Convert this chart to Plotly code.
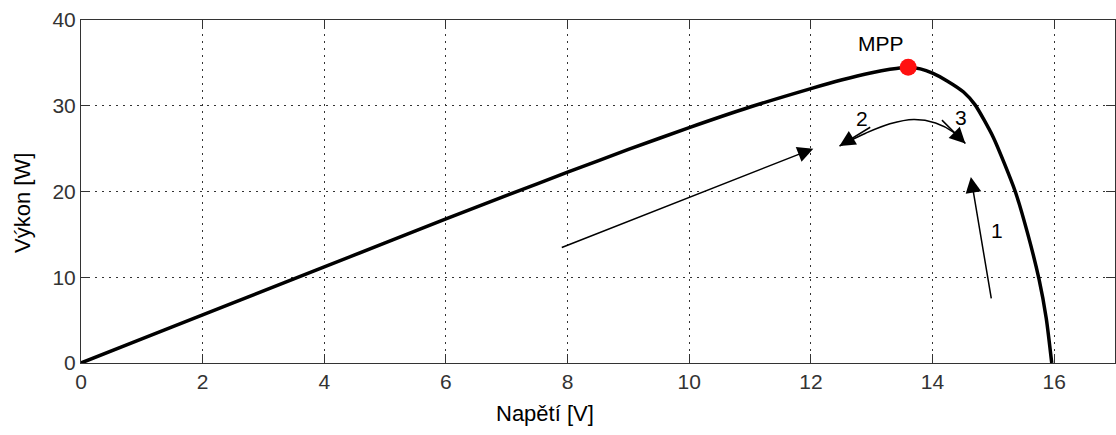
import plotly.graph_objects as go

# P-V curve of the PV panel
voltage = [0, 1, 2, 3, 4, 5, 6, 7, 8, 9, 10, 11, 12, 12.5, 13, 13.3, 13.6,
           13.8, 14.0, 14.24, 14.51, 14.70, 15.0, 15.36, 15.56, 15.75, 15.87, 15.96]
power = [0, 2.8, 5.6, 8.4, 11.2, 14.0, 16.8, 19.55, 22.25, 24.9, 27.45, 29.85, 32.0,
         33.0, 33.85, 34.25, 34.5, 34.3, 33.8, 32.9, 31.6, 30.1, 26.3, 20.0, 15.2,
         9.8, 5.2, 0]

mpp_v = [13.6]
mpp_p = [34.5]

# curved arc between arrow 2 and arrow 3
arc_v = [12.47, 12.9, 13.3, 13.69, 14.05, 14.35, 14.54]
arc_p = [25.3, 26.8, 27.9, 28.4, 28.0, 26.9, 25.6]

# straight arrows: (tail_v, tail_p, head_v, head_p)
arrows = [
    (7.88, 13.4, 12.04, 25.0),
    (14.97, 7.35, 14.63, 21.7),
    (14.13, 28.5, 14.54, 25.6),
    (13.0, 27.6, 12.47, 25.3),
]
labels = [("1", 15.06, 15.5), ("2", 12.84, 28.5), ("3", 14.46, 28.65), ("MPP", 13.16, 37.3)]

x_ticks = [0, 2, 4, 6, 8, 10, 12, 14, 16]
y_ticks = [0, 10, 20, 30, 40]

FONT = "Arial, Liberation Sans, sans-serif"

fig = go.Figure()
fig.add_trace(go.Scatter(x=voltage, y=power, mode="lines",
                         line=dict(color="black", width=3.5, shape="spline", smoothing=0.6),
                         hoverinfo="skip", showlegend=False))
fig.add_trace(go.Scatter(x=arc_v, y=arc_p, mode="lines",
                         line=dict(color="black", width=1.6, shape="spline"),
                         hoverinfo="skip", showlegend=False))
fig.add_trace(go.Scatter(x=mpp_v, y=mpp_p, mode="markers",
                         marker=dict(color="#ff1010", size=17, line=dict(width=0)),
                         showlegend=False))

for tv, tp, hv, hp in arrows:
    fig.add_annotation(x=hv, y=hp, ax=tv, ay=tp, xref="x", yref="y", axref="x", ayref="y",
                       showarrow=True, arrowhead=2, arrowsize=2.1, arrowwidth=1.5,
                       arrowcolor="black", text="")
for txt, lv, lp in labels:
    fig.add_annotation(x=lv, y=lp, text=txt, showarrow=False,
                       font=dict(family=FONT, size=21, color="black"))

# axis titles (placed in paper coordinates)
fig.add_annotation(text="Napětí [V]", xref="paper", yref="paper", x=(545 - 81) / 1034,
                   y=-(413 - 363) / 343, showarrow=False, xanchor="center", yanchor="middle",
                   font=dict(family=FONT, size=22, color="black"))
fig.add_annotation(text="Výkon [W]", xref="paper", yref="paper", x=-(81 - 22) / 1034,
                   y=(363 - 203) / 343, showarrow=False, xanchor="center", yanchor="middle",
                   textangle=-90, font=dict(family=FONT, size=22, color="black"))

axis_common = dict(
    showline=True, linecolor="#333", linewidth=1, mirror="ticks",
    ticks="inside", ticklen=9, tickcolor="#333",
    showgrid=True, gridcolor="#333", gridwidth=1, griddash="2px,5px",
    zeroline=False, tickfont=dict(family=FONT, size=21, color="#333"),
    automargin=False,
)
fig.update_xaxes(range=[0, 17], tickvals=x_ticks, ticktext=[str(t) for t in x_ticks],
                 **axis_common)
fig.update_yaxes(range=[0, 40], tickvals=y_ticks, ticktext=[str(t) for t in y_ticks],
                 **axis_common)
fig.update_layout(width=1116, height=435, margin=dict(l=81, r=1, t=20, b=72),
                  plot_bgcolor="white", paper_bgcolor="white", showlegend=False)
fig.write_html("out.html", config={"displayModeBar": False},
               post_script="document.body.style.margin='0px';document.body.style.overflow='hidden';")
